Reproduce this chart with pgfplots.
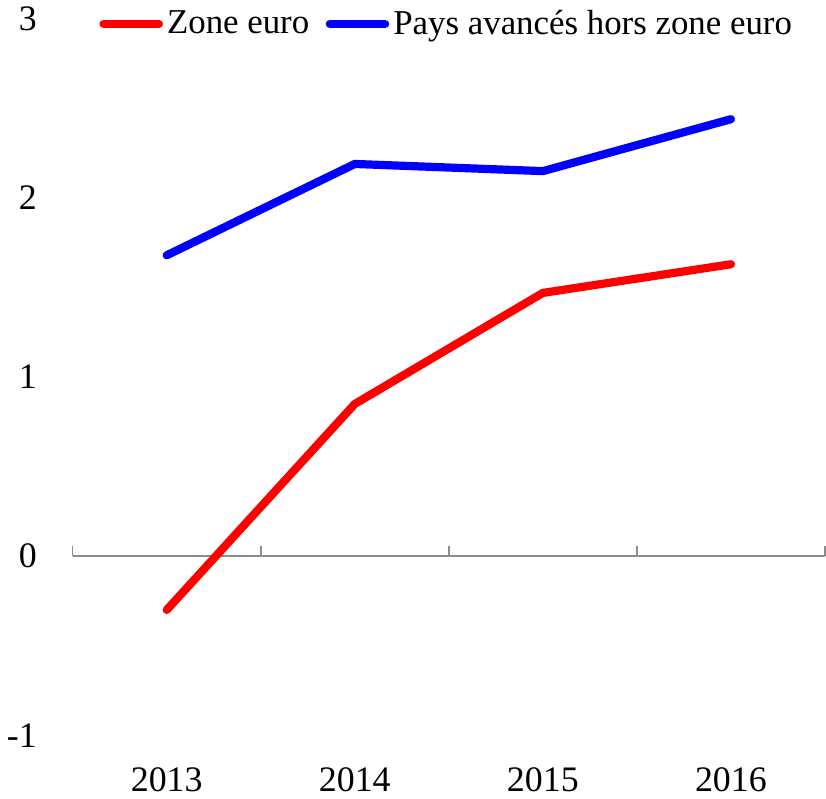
\documentclass[border=0pt]{standalone}
\usepackage{pgfplots}
\pgfplotsset{compat=1.18}
\usepackage{fontspec}
\setmainfont{Liberation Serif}
\begin{document}
\begin{tikzpicture}[font=\rmfamily]
\begin{axis}[
  scale only axis,
  width=367pt, height=349.5pt,
  xmin=0.5, xmax=4.5, ymin=-1, ymax=3,
  axis x line*=bottom, axis y line*=left,
  x axis line style={draw=none}, y axis line style={draw=none},
  major tick length=0pt,
  xtick={1,2,3,4}, xticklabels={2013,2014,2015,2016},
  ytick={-1,0,1,2,3}, yticklabels={-1,0,1,2,3},
  tick label style={font=\rmfamily\fontsize{17.5}{20}\selectfont},
  yticklabel style={xshift=-14pt},
  xticklabel style={yshift=-12pt},
  legend columns=-1,
  legend style={draw=none, fill=none, inner sep=0pt, at={(0.035,0.993)}, anchor=west,
    font=\rmfamily\fontsize{17}{20}\selectfont, /tikz/every even column/.append style={column sep=6pt}},
  legend image code/.code={\draw[#1] (0pt,0pt) -- (27pt,0pt);},
  clip=false,
]
\draw[gray!90, line width=1pt] (axis cs:0.5,0) -- (axis cs:4.5,0);
\pgfplotsinvokeforeach{0.5,1.5,2.5,3.5,4.5}{
  \draw[gray!90, line width=0.8pt] (axis cs:#1,0) -- ++(0pt,5pt);
}
\addplot[red, line width=4pt, line cap=round, line join=round] coordinates {(1,-0.30) (2,0.85) (3,1.47) (4,1.63)};
\addlegendentry{Zone euro}
\addplot[blue, line width=4pt, line cap=round, line join=round] coordinates {(1,1.68) (2,2.19) (3,2.15) (4,2.44)};
\addlegendentry{Pays avancés hors zone euro}
\end{axis}
\end{tikzpicture}
\end{document}
